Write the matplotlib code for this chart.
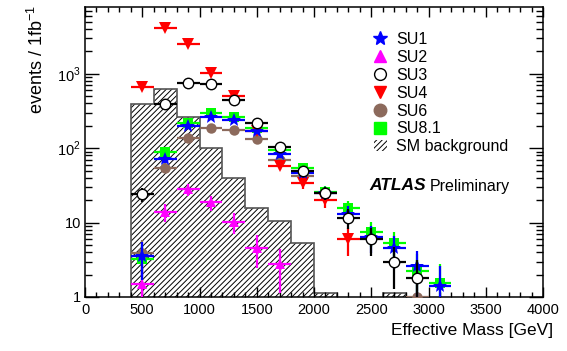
import numpy as np
import matplotlib
matplotlib.use("Agg")
import matplotlib.pyplot as plt
from matplotlib.lines import Line2D
from matplotlib.patches import Patch
from matplotlib.ticker import FixedLocator, FixedFormatter, MultipleLocator, LogLocator, NullFormatter

plt.rcParams['font.family'] = ['Liberation Sans', 'DejaVu Sans']
plt.rcParams['hatch.linewidth'] = 0.7
plt.rcParams['mathtext.fontset'] = 'custom'
plt.rcParams['mathtext.rm'] = 'Liberation Sans'

# ---- data ----
bin_edges = [400, 600, 800, 1000, 1200, 1400, 1600, 1800, 2000, 2200, 2400, 2600, 2800, 3000]
sm_background = [390, 620, 265, 100, 40, 15.5, 10.6, 5.3, 1.12, 0.1, 0.1, 1.12, 0.1]

centers_su1 = [500, 700, 900, 1100, 1300, 1500, 1700, 1900, 2100, 2300, 2500, 2700, 2900, 3100]
su1 = [3.6, 71, 197, 260, 238, 170, 84, 47, 25, 13.2, 6.4, 4.5, 2.6, 1.4]

centers_su2 = [500, 700, 900, 1100, 1300, 1500, 1700]
su2 = [1.5, 14, 28, 18.7, 10.3, 4.6, 2.8]

centers_su3 = [500, 700, 900, 1100, 1300, 1500, 1700, 1900, 2100, 2300, 2500, 2700, 2900]
su3 = [24, 390, 755, 718, 440, 218, 104, 50, 25, 11.7, 6.0, 3.0, 1.8]

centers_su4 = [500, 700, 900, 1100, 1300, 1500, 1700, 1900, 2100, 2300]
su4 = [670, 4100, 2500, 1030, 510, 172, 58, 34, 20, 6.0]

centers_su6 = [500, 700, 900, 1100, 1300, 1500, 1700, 1900, 2900]
su6 = [3.9, 55, 139, 185, 174, 131, 69, 42, 1.0]

centers_su81 = [500, 700, 900, 1100, 1300, 1500, 1700, 1900, 2100, 2300, 2500, 2700, 2900, 3100]
su81 = [3.2, 89, 218, 295, 260, 185, 94, 54, 26, 15.7, 7.5, 5.25, 2.25, 1.55]

x_ticks = [0, 500, 1000, 1500, 2000, 2500, 3000, 3500, 4000]
y_ticks = [1, 10, 100, 1000]
y_tick_labels = ['1', '10', r'10$^{2}$', r'10$^{3}$']

# ---- figure ----
fig = plt.figure(figsize=(5.67, 3.51), dpi=100)
ax = fig.add_axes([85/567, 1-297/351, (543-85)/567, (297-7)/351])
ax.set_yscale('log')

ax.stairs(sm_background, bin_edges, baseline=0.1, fill=True, facecolor='white',
          edgecolor='black', hatch='//////', linewidth=0, zorder=1)
ax.stairs(sm_background, bin_edges, baseline=0.1, fill=False,
          edgecolor='#555555', linewidth=1.2, zorder=1.5)

def draw(xc, y, marker, face, edge, barcol, ms, z):
    y = np.asarray(y, dtype=float)
    err = np.sqrt(y)
    lo = np.minimum(err, y * 0.999)
    ax.errorbar(xc, y, xerr=100, yerr=[lo, err], fmt=marker, ms=ms,
                mfc=face, mec=edge, mew=1.0 if face == 'white' else 0,
                ecolor=barcol, elinewidth=1.6, capsize=0, zorder=z)

green = '#00ff00'
brown = '#8c6a5c'
draw(centers_su81, su81, 's', green, green, green, 7, 2)
draw(centers_su6, su6, 'o', brown, brown, brown, 7.5, 3)
draw(centers_su4, su4, 'v', 'red', 'red', 'red', 8.5, 4)
draw(centers_su2, su2, '^', 'magenta', 'magenta', 'magenta', 6.5, 5)
draw(centers_su1, su1, '*', 'blue', 'blue', 'blue', 10, 6)
draw(centers_su3, su3, 'o', 'white', 'black', 'black', 7.5, 7)

ax.set_xlim(0, 4000)
ax.set_ylim(1, 7900)

ax.xaxis.set_major_locator(FixedLocator(x_ticks))
ax.xaxis.set_minor_locator(MultipleLocator(100))
ax.yaxis.set_major_locator(FixedLocator(y_ticks))
ax.yaxis.set_major_formatter(FixedFormatter(y_tick_labels))
ax.yaxis.set_minor_locator(LogLocator(base=10, subs=np.arange(2, 10)))
ax.yaxis.set_minor_formatter(NullFormatter())
ax.tick_params(axis='x', which='major', direction='in', top=True, length=7, width=1, labelsize=10.5, pad=4)
ax.tick_params(axis='x', which='minor', direction='in', top=True, length=3.5, width=1)
ax.tick_params(axis='y', which='major', direction='in', right=True, length=10, width=1, labelsize=10.5, pad=3)
ax.tick_params(axis='y', which='minor', direction='in', right=True, length=5, width=1)
for s in ax.spines.values():
    s.set_linewidth(1.1)

fig.text(553/567, 1-330/351, 'Effective Mass [GeV]', ha='right', va='center', fontsize=12.5)
fig.text(37/567, 1-5/351, r'events / 1fb$^{-1}$', rotation=90, ha='center', va='top', fontsize=13)

handles = [
    Line2D([], [], ls='none', marker='*', color='blue', ms=10),
    Line2D([], [], ls='none', marker='^', color='magenta', ms=8.5),
    Line2D([], [], ls='none', marker='o', mfc='white', mec='black', ms=8.5),
    Line2D([], [], ls='none', marker='v', color='red', ms=9),
    Line2D([], [], ls='none', marker='o', color=brown, ms=9),
    Line2D([], [], ls='none', marker='s', color=green, ms=8.5),
    Patch(facecolor='white', edgecolor='black', hatch='//////', linewidth=0),
]
labels = ['SU1', 'SU2', 'SU3', 'SU4', 'SU6', 'SU8.1', 'SM background']
leg = fig.legend(handles, labels, loc='upper left', bbox_to_anchor=(374/567, 1-32/351),
                 frameon=False, fontsize=11.5, handlelength=0.8, handleheight=0.7,
                 handletextpad=0.6, labelspacing=0.18, borderpad=0, borderaxespad=0)

t1 = fig.text(369/567, 1-186/351, 'ATLAS', fontsize=12.5, fontweight='bold', fontstyle='italic',
              ha='left', va='center')
fig.canvas.draw()
bb = t1.get_window_extent()
fig.text((bb.x1 + 4)/567, 1-186/351, 'Preliminary', fontsize=11.5, ha='left', va='center')

fig.savefig('out.png', dpi=100)
